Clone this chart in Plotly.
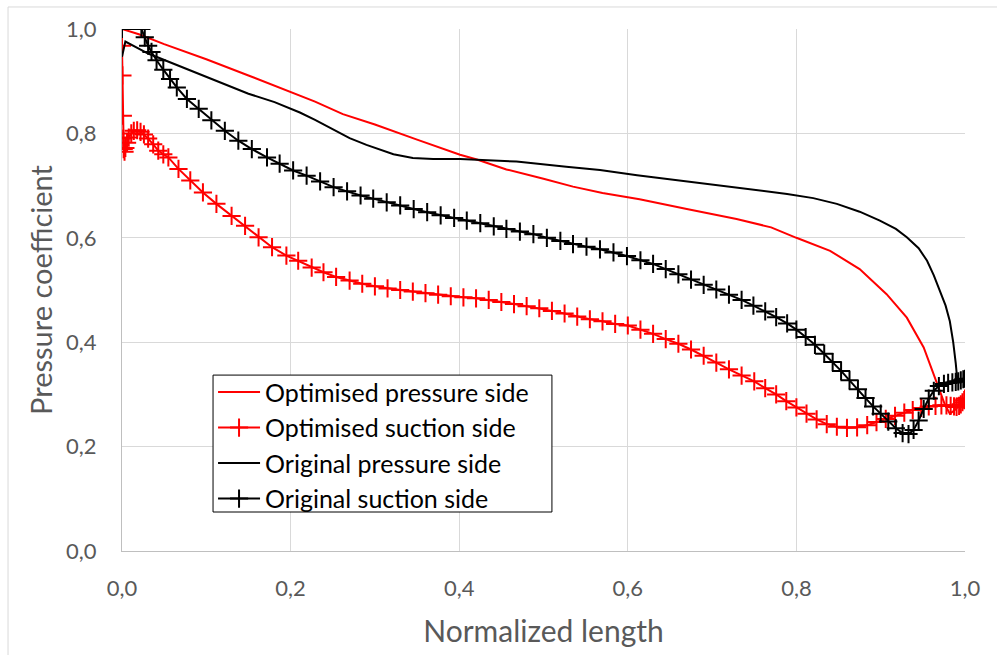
import plotly.graph_objects as go

# Optimised pressure side
opt_ps_x = [0.000, 0.020, 0.050, 0.100, 0.150, 0.200, 0.229, 0.262, 0.300, 0.350, 0.401, 0.421, 0.456,
            0.500, 0.535, 0.570, 0.614, 0.670, 0.729, 0.770, 0.800, 0.840, 0.875, 0.907, 0.931, 0.951,
            0.966, 0.976, 0.982, 0.988, 0.994, 1.000]
opt_ps_y = [1.000, 0.990, 0.971, 0.942, 0.911, 0.879, 0.861, 0.837, 0.817, 0.788, 0.759, 0.750, 0.731,
            0.713, 0.698, 0.686, 0.674, 0.655, 0.636, 0.620, 0.600, 0.575, 0.540, 0.492, 0.447, 0.390,
            0.326, 0.281, 0.263, 0.270, 0.280, 0.294]

# Optimised suction side
opt_ss_x = [0.000, 0.0005, 0.001, 0.0015, 0.002, 0.003, 0.004, 0.006, 0.008, 0.011, 0.014, 0.018, 0.022,
            0.026, 0.031, 0.037, 0.043, 0.049, 0.055, 0.067, 0.081, 0.096, 0.112, 0.130, 0.146, 0.162,
            0.178, 0.195, 0.209, 0.225, 0.239, 0.254, 0.270, 0.285, 0.300, 0.315, 0.330, 0.345, 0.360,
            0.375, 0.390, 0.405, 0.420, 0.435, 0.450, 0.465, 0.480, 0.495, 0.510, 0.525, 0.540, 0.555,
            0.570, 0.585, 0.600, 0.615, 0.630, 0.645, 0.660, 0.675, 0.690, 0.705, 0.720, 0.735, 0.750,
            0.763, 0.776, 0.788, 0.800, 0.812, 0.824, 0.836, 0.848, 0.860, 0.872, 0.884, 0.895, 0.906,
            0.917, 0.928, 0.938, 0.948, 0.957, 0.965, 0.972, 0.978, 0.983, 0.987, 0.990, 0.993, 0.995,
            0.997, 0.999, 1.000]
opt_ss_y = [0.968, 0.911, 0.834, 0.790, 0.770, 0.765, 0.772, 0.782, 0.792, 0.800, 0.805, 0.806, 0.803,
            0.798, 0.790, 0.779, 0.767, 0.760, 0.754, 0.732, 0.710, 0.687, 0.665, 0.642, 0.623, 0.601,
            0.582, 0.566, 0.556, 0.543, 0.534, 0.525, 0.518, 0.512, 0.507, 0.503, 0.500, 0.497, 0.494,
            0.491, 0.488, 0.486, 0.484, 0.481, 0.477, 0.473, 0.469, 0.465, 0.460, 0.455, 0.449, 0.444,
            0.440, 0.435, 0.432, 0.424, 0.416, 0.406, 0.397, 0.386, 0.374, 0.361, 0.348, 0.336, 0.325,
            0.312, 0.300, 0.287, 0.275, 0.263, 0.252, 0.243, 0.238, 0.236, 0.237, 0.241, 0.247, 0.253,
            0.259, 0.265, 0.270, 0.274, 0.277, 0.278, 0.279, 0.279, 0.278, 0.277, 0.276, 0.278, 0.281,
            0.285, 0.289, 0.292]

# Original pressure side
org_ps_x = [0.000, 0.004, 0.031, 0.071, 0.110, 0.150, 0.181, 0.211, 0.229, 0.251, 0.270, 0.290, 0.322,
            0.345, 0.369, 0.401, 0.435, 0.468, 0.527, 0.567, 0.611, 0.660, 0.709, 0.750, 0.789, 0.820,
            0.848, 0.875, 0.899, 0.918, 0.931, 0.945, 0.955, 0.963, 0.970, 0.977, 0.982, 0.986, 0.989,
            0.991, 0.995, 1.000]
org_ps_y = [0.947, 0.976, 0.953, 0.927, 0.901, 0.876, 0.860, 0.840, 0.826, 0.807, 0.791, 0.778, 0.760,
            0.753, 0.751, 0.751, 0.749, 0.746, 0.736, 0.730, 0.720, 0.710, 0.700, 0.692, 0.684, 0.676,
            0.665, 0.650, 0.633, 0.617, 0.601, 0.580, 0.556, 0.528, 0.499, 0.470, 0.440, 0.400, 0.360,
            0.326, 0.328, 0.332]

# Original suction side
org_ss_x = [0.000, 0.023, 0.027, 0.031, 0.035, 0.041, 0.049, 0.057, 0.065, 0.077, 0.091, 0.106, 0.122,
            0.138, 0.154, 0.172, 0.187, 0.203, 0.219, 0.235, 0.251, 0.267, 0.283, 0.298, 0.314, 0.330,
            0.346, 0.362, 0.378, 0.394, 0.409, 0.425, 0.441, 0.456, 0.472, 0.488, 0.504, 0.520, 0.535,
            0.551, 0.567, 0.583, 0.599, 0.615, 0.630, 0.645, 0.660, 0.675, 0.690, 0.705, 0.720, 0.735,
            0.749, 0.763, 0.776, 0.789, 0.800, 0.811, 0.822, 0.833, 0.843, 0.853, 0.863, 0.873, 0.882,
            0.891, 0.900, 0.909, 0.918, 0.926, 0.933, 0.939, 0.945, 0.951, 0.957, 0.963, 0.969, 0.975,
            0.980, 0.985, 0.989, 0.992, 0.995, 0.998, 1.000]
org_ss_y = [1.000, 1.000, 0.984, 0.968, 0.956, 0.940, 0.922, 0.904, 0.888, 0.866, 0.847, 0.825, 0.805,
            0.786, 0.770, 0.754, 0.742, 0.729, 0.719, 0.708, 0.697, 0.689, 0.681, 0.675, 0.668, 0.662,
            0.655, 0.649, 0.643, 0.638, 0.633, 0.628, 0.622, 0.617, 0.612, 0.607, 0.600, 0.594, 0.588,
            0.583, 0.578, 0.572, 0.565, 0.557, 0.550, 0.540, 0.530, 0.520, 0.510, 0.501, 0.491, 0.481,
            0.470, 0.459, 0.448, 0.436, 0.424, 0.410, 0.395, 0.378, 0.362, 0.345, 0.327, 0.310, 0.293,
            0.277, 0.263, 0.248, 0.235, 0.226, 0.224, 0.232, 0.250, 0.272, 0.292, 0.307, 0.316, 0.320,
            0.322, 0.323, 0.324, 0.325, 0.327, 0.329, 0.330]

tick_vals = [0.0, 0.2, 0.4, 0.6, 0.8, 1.0]

RED = "#ff0000"
BLACK = "#000000"
FONT = "Lato"

fig = go.Figure()
fig.add_trace(go.Scatter(x=opt_ps_x, y=opt_ps_y, mode="lines", name="Optimised pressure side",
                         line=dict(color=RED, width=2)))
fig.add_trace(go.Scatter(x=opt_ss_x, y=opt_ss_y, mode="lines+markers", name="Optimised suction side",
                         line=dict(color=RED, width=2),
                         marker=dict(symbol="cross-thin", size=13, color=RED,
                                     line=dict(color=RED, width=2))))
fig.add_trace(go.Scatter(x=org_ps_x, y=org_ps_y, mode="lines", name="Original pressure side",
                         line=dict(color=BLACK, width=2)))
fig.add_trace(go.Scatter(x=org_ss_x, y=org_ss_y, mode="lines+markers", name="Original suction side",
                         line=dict(color=BLACK, width=2),
                         marker=dict(symbol="cross-thin", size=13, color=BLACK,
                                     line=dict(color=BLACK, width=2))))

axis_common = dict(
    range=[0, 1], tickvals=tick_vals, tickformat=".1f",
    showgrid=True, gridcolor="#d9d9d9", gridwidth=1,
    showline=True, linecolor="#bfbfbf", linewidth=1,
    zeroline=False, ticks="",
    tickfont=dict(family=FONT, size=22, color="#595959"),
)

fig.update_layout(
    width=997, height=655,
    margin=dict(l=122, r=32, t=29, b=104),
    paper_bgcolor="white", plot_bgcolor="white",
    separators=", ",
    font=dict(family=FONT, color="#595959"),
    showlegend=True,
    legend=dict(x=0.108, y=0.348, xanchor="left", yanchor="top",
                bgcolor="rgba(0,0,0,0)", borderwidth=0,
                font=dict(family=FONT, size=25, color="#000000"),
                itemwidth=42, tracegroupgap=0),
    xaxis=dict(axis_common, ticklabelstandoff=18,
               title=dict(text="Normalized length", standoff=20,
                          font=dict(family=FONT, size=30, color="#595959"))),
    yaxis=dict(axis_common, ticklabelstandoff=20,
               title=dict(text="Pressure coefficient", standoff=4,
                          font=dict(family=FONT, size=29, color="#595959"))),
    shapes=[
        dict(type="line", xref="paper", yref="paper", x0=-0.1352, x1=1.04, y0=1.0422, y1=1.0422,
             line=dict(color="#d9d9d9", width=1)),
        dict(type="line", xref="paper", yref="paper", x0=-0.1352, x1=-0.1352, y0=1.0422, y1=-0.21,
             line=dict(color="#d9d9d9", width=1)),
        dict(type="rect", xref="paper", yref="paper", layer="above",
             x0=0.108, x1=0.510, y0=0.0747, y1=0.337,
             fillcolor="white", line=dict(color="#000000", width=1)),
    ],
)

fig.write_html("out.html")
